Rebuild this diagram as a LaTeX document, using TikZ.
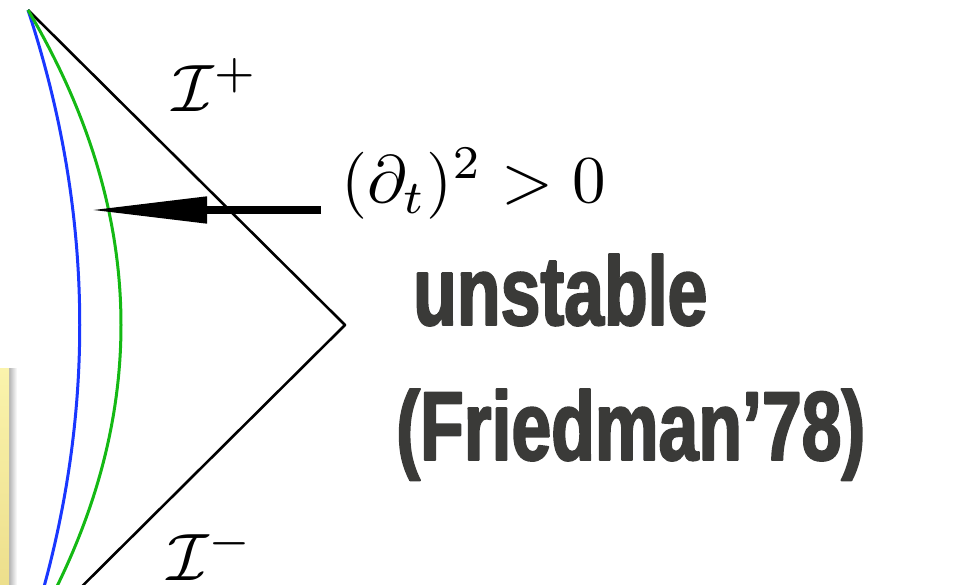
\documentclass[tikz,border=0pt]{standalone}
\usepackage{fontspec}
\usetikzlibrary{arrows.meta}
\newfontfamily\condfont[FakeStretch=0.73,BoldFeatures={FakeBold=2}]{Liberation Sans}
\definecolor{curveblue}{RGB}{25,55,255}
\definecolor{curvegreen}{RGB}{20,185,20}
\definecolor{txtgray}{RGB}{58,58,56}
\definecolor{notetop}{RGB}{250,243,172}
\definecolor{notebot}{RGB}{237,223,140}

\begin{document}
\begin{tikzpicture}[x=1pt, y=-1pt, line join=round,
	mathlbl/.style={scale=6.7, inner sep=0pt, anchor=base west},
	bigtxt/.style={inner sep=0pt, anchor=base west, text=txtgray, font=\condfont\bfseries\fontsize{98}{100}\selectfont}]
	\useasboundingbox (0,0) rectangle (955,585);
	\clip (0,0) rectangle (955,585);
	% note behind, at the left edge
	\shade[left color=black!30, right color=white] (9,368) rectangle (17,585);
	\shade[top color=notetop, bottom color=notebot] (-5,368) rectangle (9,585);
	% Penrose diagram
	\coordinate (top) at (28,10);
	\coordinate (tip) at (345,325);
	\coordinate (bot) at (28,640);
	\draw[line width=2.6pt] (top) -- (tip) -- (bot);
	\draw[curveblue, line width=3pt] (top) .. controls (97,220) and (97,430) .. (bot);
	\draw[curvegreen, line width=3pt] (top) .. controls (152,220) and (152,430) .. (bot);
	\node[mathlbl] (scriplus) at (171,112) {$\mathcal{I}^+$};
	\node[mathlbl] (scriminus) at (166,580) {$\mathcal{I}^-$};
	% Killing vector
	\node[mathlbl] (cond) at (340,203) {$(\partial_t)^2>0$};
	\coordinate (arrtail) at (321,210);
	\coordinate (arrhead) at (89,210);
	\draw[line width=8pt, -{Triangle[length=118pt,width=25pt]}] (arrtail) -- (arrhead);
	\node[bigtxt] (unst) at (413,325) {unstable};
	\node[bigtxt] (fried) at (396,460) {(Friedman’78)};
\end{tikzpicture}
\end{document}
